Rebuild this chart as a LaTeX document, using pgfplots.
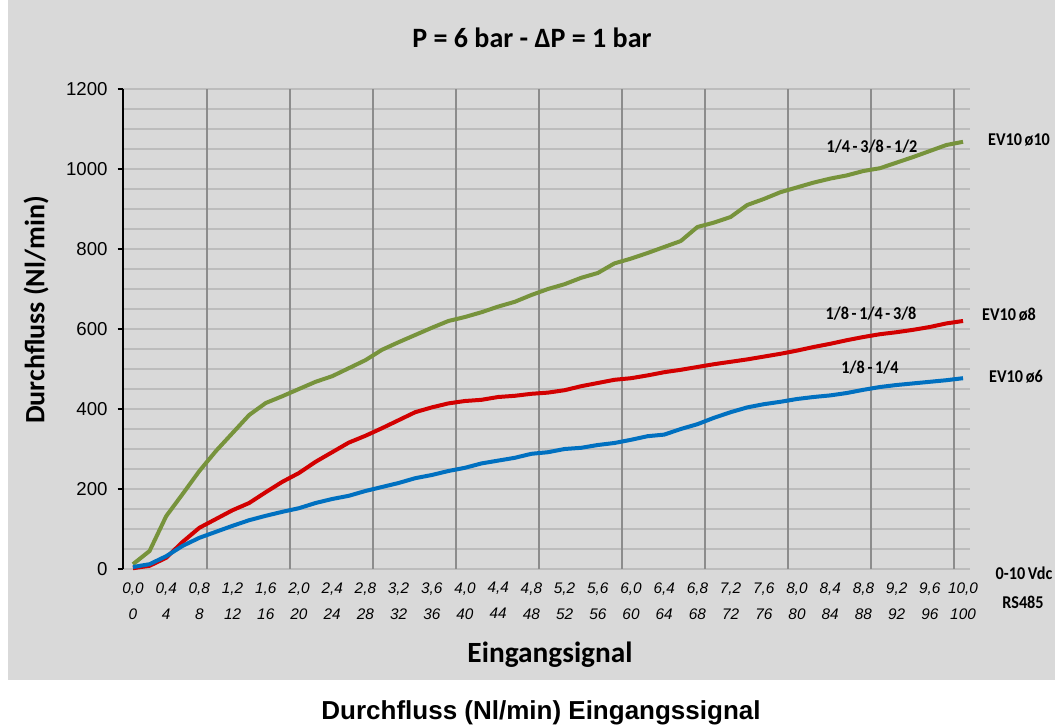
\documentclass[border=0pt]{standalone}
\usepackage{pgfplots}
\pgfplotsset{compat=1.18}
\usepackage{pgfplotstable}
\usepackage{fontspec}
\setmainfont{Carlito}
\newfontfamily\arial{Liberation Sans}

\definecolor{chartbg}{RGB}{217,217,217}
\definecolor{hgrid}{RGB}{188,188,188}
\definecolor{vgrid}{RGB}{140,140,140}
\definecolor{evgreen}{RGB}{119,147,60}
\definecolor{evred}{RGB}{210,0,0}
\definecolor{evblue}{RGB}{0,112,192}

% EV10 o10 (1/4 - 3/8 - 1/2)
\pgfplotstableread{
v F
0.0 12
0.2 45
0.4 132
0.6 188
0.8 245
1.0 295
1.2 340
1.4 385
1.6 415
1.8 432
2.0 450
2.2 468
2.4 482
2.6 502
2.8 522
3.0 548
3.2 567
3.4 585
3.6 603
3.8 620
4.0 630
4.2 642
4.4 656
4.6 668
4.8 685
5.0 700
5.2 712
5.4 728
5.6 740
5.8 764
6.0 776
6.2 790
6.4 805
6.6 820
6.8 855
7.0 866
7.2 880
7.4 910
7.6 925
7.8 942
8.0 954
8.2 966
8.4 976
8.6 984
8.8 995
9.0 1002
9.2 1016
9.4 1030
9.6 1045
9.8 1060
10.0 1068
}\greendata

% EV10 o8 (1/8 - 1/4 - 3/8)
\pgfplotstableread{
v F
0.0 2
0.2 8
0.4 28
0.6 68
0.8 103
1.0 125
1.2 147
1.4 165
1.6 192
1.8 218
2.0 240
2.2 268
2.4 292
2.6 316
2.8 333
3.0 352
3.2 372
3.4 392
3.6 404
3.8 414
4.0 420
4.2 423
4.4 430
4.6 433
4.8 438
5.0 441
5.2 447
5.4 457
5.6 465
5.8 473
6.0 477
6.2 484
6.4 492
6.6 498
6.8 505
7.0 512
7.2 518
7.4 524
7.6 531
7.8 538
8.0 546
8.2 555
8.4 563
8.6 572
8.8 580
9.0 587
9.2 592
9.4 598
9.6 605
9.8 614
10.0 620
}\reddata

% EV10 o6 (1/8 - 1/4)
\pgfplotstableread{
v F
0.0 5
0.2 12
0.4 32
0.6 58
0.8 78
1.0 93
1.2 108
1.4 122
1.6 133
1.8 143
2.0 152
2.2 165
2.4 175
2.6 183
2.8 195
3.0 205
3.2 215
3.4 227
3.6 235
3.8 245
4.0 253
4.2 264
4.4 271
4.6 278
4.8 288
5.0 292
5.2 300
5.4 303
5.6 310
5.8 315
6.0 323
6.2 332
6.4 336
6.6 350
6.8 362
7.0 378
7.2 392
7.4 404
7.6 412
7.8 418
8.0 425
8.2 430
8.4 434
8.6 440
8.8 448
9.0 455
9.2 460
9.4 464
9.6 468
9.8 472
10.0 477
}\bluedata

\begin{document}
\begin{tikzpicture}[x=0.75pt,y=0.75pt]
\useasboundingbox (0,0) rectangle (1063,726);
\fill[chartbg] (8,46) rectangle (1055,726);

\begin{axis}[
    at={(92.25pt,117.75pt)}, anchor=south west,
    scale only axis,
    width=635.25pt, height=360pt,
    xmin=-0.12, xmax=10.084,
    ymin=0, ymax=1200,
    axis background/.style={fill=chartbg},
    axis x line=bottom, axis y line=left,
    x axis line style={-, draw=hgrid, line width=1.1pt},
    y axis line style={-, black, line width=1pt},
    xtick={0,0.4,...,10.01},
    xticklabels={{0,0\\0},{0,4\\4},{0,8\\8},{1,2\\12},{1,6\\16},{2,0\\20},{2,4\\24},{2,8\\28},{3,2\\32},{3,6\\36},{4,0\\40},{4,4\\44},{4,8\\48},{5,2\\52},{5,6\\56},{6,0\\60},{6,4\\64},{6,8\\68},{7,2\\72},{7,6\\76},{8,0\\80},{8,4\\84},{8,8\\88},{9,2\\92},{9,6\\96},{10,0\\100}},
    xtick style={draw=none},
    xticklabel style={align=center, font=\arial\itshape\fontsize{11.5}{19.5}\selectfont, yshift=-2.5pt},
    extra x ticks={0.89,1.89,2.89,3.89,4.89,5.89,6.89,7.89,8.89,9.89},
    extra x tick labels={},
    extra x tick style={grid=major, major grid style={draw=vgrid, line width=1.3pt}, tick style={draw=none}},
    ytick={0,200,...,1200},
    yticklabels={0,200,400,600,800,1000,1200},
    minor ytick={50,100,...,1150},
    yticklabel style={font=\arial\fontsize{14}{16}\selectfont, xshift=-4pt},
    ytick style={black, line width=1pt},
    tick align=outside,
    major tick length=4pt,
    minor tick length=0pt,
    ymajorgrids, yminorgrids,
    major grid style={draw=hgrid, line width=1.1pt},
    minor grid style={draw=hgrid, line width=1.1pt},
    clip=false,
]
\addplot[evgreen, line width=3pt, line join=round] table[x=v, y=F] {\greendata};
\addplot[evred, line width=3pt, line join=round] table[x=v, y=F] {\reddata};
\addplot[evblue, line width=3pt, line join=round] table[x=v, y=F] {\bluedata};
\end{axis}

\node[font=\bfseries\fontsize{21}{25}\selectfont] at (532,688) {P = 6 bar - ΔP = 1 bar};
\node[font=\bfseries\fontsize{21}{24}\selectfont, rotate=90] at (36,416) {Durchfluss (Nl/min)};
\node[font=\bfseries\fontsize{22}{26}\selectfont] at (550,71) {Eingangsignal};
\node[font=\arial\bfseries\fontsize{19.5}{22}\selectfont] at (541,13) {Durchfluss (Nl/min) Eingangssignal};

\begin{scope}[every node/.style={font=\bfseries\fontsize{13.5}{15}\selectfont, inner sep=0pt, xscale=0.9}]
\node at (1019,586) {EV10\,ø10};
\node at (1009,411) {EV10\,ø8};
\node at (1016,349) {EV10\,ø6};
\node at (872,579) {1/4\,-\,3/8\,-\,1/2};
\node at (871,412) {1/8\,-\,1/4\,-\,3/8};
\node at (870,358) {1/8\,-\,1/4};
\node at (1024,153) {0-10\,Vdc};
\node at (1023,124) {RS485};
\end{scope}
\end{tikzpicture}
\end{document}
